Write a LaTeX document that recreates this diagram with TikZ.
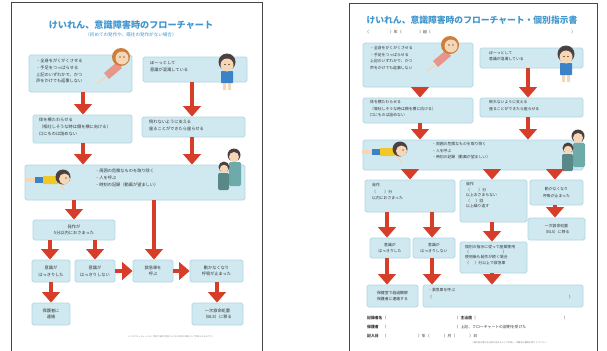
\documentclass[tikz,border=0pt]{standalone}
\usepackage{fontspec}
\setmainfont{Noto Sans CJK JP}
\usetikzlibrary{arrows.meta}

\definecolor{boxfill}{RGB}{208,233,241}
\definecolor{boxedge}{RGB}{176,214,226}
\definecolor{arrred}{RGB}{214,62,42}
\definecolor{titleblue}{RGB}{64,150,205}
\definecolor{pageline}{RGB}{70,70,70}
\definecolor{skin}{RGB}{246,214,180}
\definecolor{hairbrown}{RGB}{205,125,60}
\definecolor{hairdark}{RGB}{75,65,65}
\definecolor{bodypink}{RGB}{232,150,140}
\definecolor{shirtblue}{RGB}{60,130,200}
\definecolor{shirtyellow}{RGB}{240,200,40}
\definecolor{shirtteal}{RGB}{110,170,170}

\tikzset{
  % girl lying on her back, head up right
  girl/.pic={
    \fill[bodypink] (-4,5) -- (-17,16) -- (-12,22) -- (1,11) -- cycle;
    \draw[skin, line width=2pt] (-15,20) -- (-23,26);
    \fill[hairbrown] (0,0) circle (9);
    \fill[skin] (1,1) circle (6.5);
    \fill[black] (-1,0) circle (0.7) (3,0) circle (0.7);
  },
  % boy standing
  boy/.pic={
    \fill[skin] (-4,19) rectangle (-1,27) (1,19) rectangle (4,27);
    \fill[shirtblue, rounded corners=1pt] (-6,8) rectangle (6,20);
    \fill[hairdark] (0,-1) circle (8.5);
    \fill[skin] (0,2) circle (6.5);
    \fill[black] (-2,1.5) circle (0.7) (2,1.5) circle (0.7);
  },
  % boy lying on his front, head to the right
  lying/.pic={
    \fill[skin] (-38,0) rectangle (-28,4);
    \fill[shirtblue] (-28,-1) rectangle (-20,5);
    \fill[shirtyellow, rounded corners=1pt] (-20,-2) rectangle (-5,6);
    \draw[skin, line width=2pt] (-3,6) -- (1,12);
    \fill[hairdark] (0,-1) circle (7.5);
    \fill[skin] (1.5,1) circle (5.5);
    \fill[black] (3,0) circle (0.6);
  },
  % two children looking on
  pair/.pic={
    \fill[shirtteal, rounded corners=2pt] (-5,6) rectangle (7,30);
    \fill[hairdark] (0,-1) circle (6.5);
    \fill[skin] (0,1) circle (5);
    \fill[shirtteal!80!black, rounded corners=2pt] (-16,17) rectangle (-5,34);
    \fill[hairdark] (-10,11) circle (5.5);
    \fill[skin] (-10,13) circle (4.2);
  }
}

\begin{document}
\begin{tikzpicture}[x=0.05cm, y=-0.05cm,
    box/.style={draw=boxedge, fill=boxfill, line width=1.2pt, rounded corners=2.5pt, inner sep=0pt},
    txt/.style={font=\fontsize{6}{9.5}\selectfont, align=left, text=black!80, inner sep=0pt},
    ctxt/.style={txt, align=center},
    rtxt/.style={txt, font=\fontsize{5.5}{9.5}\selectfont},
    rctxt/.style={rtxt, align=center},
    ftxt/.style={font=\fontsize{5.5}{7}\selectfont, text=black!80, inner sep=0pt},
    tiny/.style={font=\fontsize{3}{4}\selectfont, text=black!50, inner sep=0pt},
    arr/.style={draw=arrred, line width=6.5pt, -{Triangle[width=25pt, length=15pt]}},
    page/.style={draw=pageline, line width=1.2pt}
  ]
  \useasboundingbox (0,0) rectangle (607,350);

  % ---- left sheet ----
  \draw[page] (11,2) rectangle (262,360);
  \node[font=\fontsize{13}{15}\selectfont\bfseries, text=titleblue] (ltitle) at (131,25) {けいれん、意識障害時のフローチャート};
  \node[font=\fontsize{6.5}{8}\selectfont, text=titleblue] (lsub) at (131,35) {（初めての発作や、既往の発作がない場合）};

  \node[box, minimum width=5.15cm, minimum height=1.85cm] (l1) at (80.5,73.5) {};
  \node[txt, anchor=north west] (l1t) at (36,59) {・全身をがくがくさせる\\・手足をつっぱらせる\\上記のいずれかで、かつ\\声をかけても返事しない};
  \pic at (121,57) {girl};
  \node[box, minimum width=5.2cm, minimum height=1.25cm] (l2) at (195,69.5) {};
  \node[txt, anchor=north west] (l2t) at (150,61) {ぼーっとして\\意識が混濁している};
  \pic at (227,63) {boy};

  \node[box, minimum width=4.95cm, minimum height=1.4cm] (l3) at (82.5,129) {};
  \node[txt, anchor=north west] (l3t) at (39,118) {体を横たわらせる\\（嘔吐しそうな時は顔を横に向ける）\\口にものは詰めない};
  \node[box, minimum width=5.15cm, minimum height=1cm] (l4) at (193.5,127) {};
  \node[txt, anchor=north west] (l4t) at (149,120) {倒れないように支える\\座ることができたら座らせる};

  \node[box, minimum width=11cm, minimum height=1.75cm] (l5) at (135,182.5) {};
  \node[txt, anchor=north west] (l5t) at (95,169) {・周囲の危険なものを取り除く\\・人を呼ぶ\\・時刻の記録（動画が望ましい）};
  \pic at (63,178) {lying};
  \pic at (234,156) {pair};

  \node[box, ctxt, minimum width=4.1cm, minimum height=1cm] (l6) at (74,230) {発作が\\5分以内におさまった};
  \node[box, ctxt, minimum width=1.9cm, minimum height=1.1cm] (l7) at (51,271) {意識が\\はっきりした};
  \node[box, ctxt, minimum width=2cm, minimum height=1.1cm] (l8) at (95,271) {意識が\\はっきりしない};
  \node[box, ctxt, minimum width=2cm, minimum height=1.1cm] (l9) at (153,271) {救急車を\\呼ぶ};
  \node[box, ctxt, minimum width=2.65cm, minimum height=1.1cm] (l10) at (216.5,271) {動かなくなり\\呼吸が止まった};
  \node[box, ctxt, minimum width=2.55cm, minimum height=1.1cm] (l11) at (217.5,314) {一次救命処置\\（BLS）に移る};
  \node[box, ctxt, minimum width=1.9cm, minimum height=1.1cm] (l12) at (51,314) {保護者に\\連絡};
  \node[tiny] (lnote) at (171,337) {※このフローチャートは、学校で発作が起きたときの対応の目安として作成したものです。};

  \coordinate (lc1) at (83,0);
  \coordinate (lc2) at (192,0);
  \coordinate (lc3) at (74,0);
  \coordinate (lc4) at (154,0);
  \coordinate (lc5) at (50,0);
  \coordinate (lc6) at (95,0);
  \coordinate (lc7) at (217,0);
  \draw[arr] (l1.south -| lc1) -- (l3.north -| lc1);
  \draw[arr] (l2.south -| lc2) -- (l4.north -| lc2);
  \draw[arr] (l3.south -| lc1) -- (l5.north -| lc1);
  \draw[arr] (l4.south -| lc2) -- (l5.north -| lc2);
  \draw[arr] (l5.south -| lc3) -- (l6.north -| lc3);
  \draw[arr] (l5.south -| lc4) -- (l9.north -| lc4);
  \draw[arr] (l6.south -| lc5) -- (l7.north -| lc5);
  \draw[arr] (l6.south -| lc6) -- (l8.north -| lc6);
  \draw[arr] (l8.east) -- (l9.west);
  \draw[arr] (l9.east) -- (l10.west);
  \draw[arr] (l7.south) -- (l12.north);
  \draw[arr] (l10.south -| lc7) -- (l11.north -| lc7);

  % ---- right sheet (individual instructions) ----
  \draw[page] (349,3) rectangle (597,360);
  \node[font=\fontsize{12.5}{15}\selectfont\bfseries, text=titleblue] (rtitle) at (472,20) {けいれん、意識障害時のフローチャート・個別指示書};
  \node[ftxt, anchor=west] (rclass) at (365,32) {（\hspace{30pt}）年（\hspace{25pt}）組（\hspace{200pt}）};

  \node[box, minimum width=5.5cm, minimum height=2.2cm] (r1) at (418,65) {};
  \node[rtxt, anchor=north west] (r1t) at (370,46) {・全身をがくがくさせる\\・手足をつっぱらせる\\上記のいずれかで、かつ\\声をかけても返事しない};
  \pic at (450,45) {girl};
  \node[box, minimum width=5.15cm, minimum height=1cm] (r2) at (531.5,58) {};
  \node[rtxt, anchor=north west] (r2t) at (489,51) {ぼーっとして\\意識が混濁している};
  \pic at (566,55) {boy};

  \node[box, minimum width=5.5cm, minimum height=1.25cm] (r3) at (418,110.5) {};
  \node[rtxt, anchor=north west] (r3t) at (370,100) {体を横たわらせる\\（嘔吐しそうな時は顔を横に向ける）\\口にものは詰めない};
  \node[box, minimum width=5.15cm, minimum height=0.95cm] (r4) at (531.5,107.5) {};
  \node[rtxt, anchor=north west] (r4t) at (489,100) {倒れないように支える\\座ることができたら座らせる};

  \node[box, minimum width=11cm, minimum height=1.5cm] (r5) at (473,155) {};
  \node[rtxt, anchor=north west] (r5t) at (432,142) {・周囲の危険なものを取り除く\\・人を呼ぶ\\・時刻の記録（動画が望ましい）};
  \pic at (400,150) {lying};
  \pic at (578,137) {pair};

  \node[box, minimum width=4.5cm, minimum height=1.6cm] (r6) at (410,196) {};
  \node[rtxt, anchor=north west] (r6t) at (372,183) {発作\\（\hspace{12pt}）分\\以内におさまった};
  \node[box, minimum width=3.35cm, minimum height=2.1cm] (r7) at (493.5,201) {};
  \node[rtxt, font=\fontsize{5.5}{8}\selectfont, anchor=north west] (r7t) at (466,182) {発作\\（\hspace{12pt}）分\\以上おさまらない\\（\hspace{8pt}）回\\以上繰り返す};
  \node[box, rctxt, minimum width=2.65cm, minimum height=1.25cm] (r8) at (556.5,192.5) {動かなくなり\\呼吸が止まった};
  \node[box, rctxt, minimum width=2.85cm, minimum height=1.1cm] (r9) at (556.5,229) {一次救命処置\\（BLS）に移る};
  \node[box, rctxt, minimum width=2cm, minimum height=1cm] (r10) at (390,248) {意識が\\はっきりした};
  \node[box, rctxt, minimum width=2.1cm, minimum height=1cm] (r11) at (434,248) {意識が\\はっきりしない};
  \node[box, minimum width=3.35cm, minimum height=1.55cm] (r12) at (493.5,257.5) {};
  \node[rtxt, font=\fontsize{5.5}{7.5}\selectfont, anchor=north west] (r12t) at (465,245) {個別の指示に従って座薬使用\\（\hspace{48pt}）\\使用後も発作が続く場合\\（\hspace{8pt}）分以上で救急車};
  \node[box, rctxt, minimum width=2.55cm, minimum height=1.1cm] (r13) at (392.5,296) {保健室で経過観察\\保護者に連絡する};
  \node[box, minimum width=8cm, minimum height=1.1cm] (r14) at (503,296) {};
  \node[rtxt, anchor=north west] (r14t) at (428,288) {・救急車を呼ぶ\\（\hspace{195pt}）};

  \node[ftxt, anchor=west] (rf1) at (367,318) {\textbf{\makebox[22pt][s]{記録者名}}（\hspace{100pt}）\textbf{主治医}（\hspace{125pt}）};
  \node[ftxt, anchor=west] (rf2) at (367,327) {\textbf{\makebox[22pt][s]{保護者}}（\hspace{100pt}）上記、フローチャートの説明を受けた};
  \node[ftxt, anchor=west] (rf3) at (367,336) {\textbf{\makebox[22pt][s]{記入日}}（\hspace{45pt}）年（\hspace{20pt}）月（\hspace{20pt}）日};
  \node[tiny] (rnote) at (510,343) {※個別指示書は主治医の指示をもとに作成し、保護者の確認を受けてください。};

  \coordinate (rc1) at (420,0);
  \coordinate (rc2) at (528,0);
  \coordinate (rc3) at (410,0);
  \coordinate (rc4) at (492,0);
  \coordinate (rc5) at (555,0);
  \coordinate (rc6) at (387,0);
  \coordinate (rc7) at (432,0);
  \draw[arr] (r1.south -| rc1) -- (r3.north -| rc1);
  \draw[arr] (r2.south -| rc2) -- (r4.north -| rc2);
  \draw[arr] (r3.south -| rc1) -- (r5.north -| rc1);
  \draw[arr] (r4.south -| rc2) -- (r5.north -| rc2);
  \draw[arr] (r5.south -| rc3) -- (r6.north -| rc3);
  \draw[arr] (r5.south -| rc4) -- (r7.north -| rc4);
  \draw[arr] (r5.south -| rc5) -- (r8.north -| rc5);
  \draw[arr] (r8.south -| rc5) -- (r9.north -| rc5);
  \draw[arr] (r6.south -| rc6) -- (r10.north -| rc6);
  \draw[arr] (r6.south -| rc7) -- (r11.north -| rc7);
  \draw[arr] (r7.south -| rc4) -- (r12.north -| rc4);
  \draw[arr] (r10.south -| rc6) -- (r13.north -| rc6);
  \draw[arr] (r11.south -| rc7) -- (r14.north -| rc7);
  \draw[arr] (r12.south -| rc4) -- (r14.north -| rc4);
\end{tikzpicture}
\end{document}
